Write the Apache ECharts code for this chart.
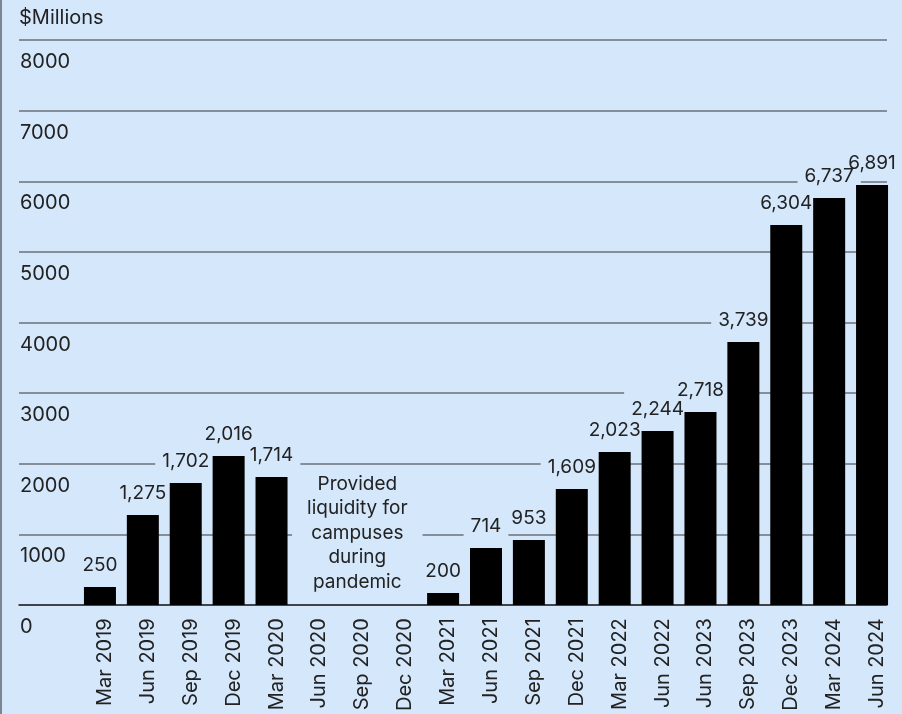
<!DOCTYPE html>
<html>
<head>
<meta charset="utf-8">
<script src="https://cdn.jsdelivr.net/npm/echarts@6/dist/echarts.min.js"></script>
<style>
  html, body { margin: 0; padding: 0; background: #d4e7fb; }
  #wrap { position: relative; width: 902px; height: 714px; }
  #chart { width: 902px; height: 714px; }
  #edge { position: absolute; left: 0; top: 0; width: 2px; height: 714px; background: #7d8590; }
</style>
</head>
<body>
<div id="wrap"><div id="chart"></div><div id="edge"></div></div>
<script>
// Quarter categories
const categories = ['Mar 2019','Jun 2019','Sep 2019','Dec 2019','Mar 2020','Jun 2020','Sep 2020','Dec 2020','Mar 2021','Jun 2021','Sep 2021','Dec 2021','Mar 2022','Jun 2022','Jun 2023','Sep 2023','Dec 2023','Mar 2024','Jun 2024'];
// Bar heights as drawn in the picture ($ millions on the axis scale)
const barHeights = [255, 1274, 1727, 2110, 1812, null, null, null, 170, 807, 920, 1642, 2166, 2464, 2733, 3724, 5381, 5763, 5947];
// Values printed above the bars
const valueLabels = ['250','1,275','1,702','2,016','1,714','','','','200','714','953','1,609','2,023','2,244','2,718','3,739','6,304','6,737','6,891'];
// Y axis ticks
const yMin = 0, yMax = 8000, yStep = 1000;
const axisTitle = '$Millions';
const noteCategory = 'Sep 2020';
const noteLevel = 1019;
const noteText = 'Provided\nliquidity for\ncampuses\nduring\npandemic';

const BG = '#d4e7fb';
const TXT = '#222222';
const FONT = 'Inter';

const labelBase = {
  show: true, position: 'top', distance: 7,
  formatter: p => valueLabels[p.dataIndex],
  fontSize: 19, fontFamily: FONT, lineHeight: 24, padding: [5, 7, 3, 7]
};

const chart = echarts.init(document.getElementById('chart'), null, { renderer: 'canvas' });
chart.setOption({
  backgroundColor: BG,
  animation: false,
  textStyle: { fontFamily: FONT },
  grid: [
    { left: 19, right: 15, top: 40, bottom: 109 },
    { left: 78.5, right: 8.5, top: 40, bottom: 109 },
    { left: 83.5, right: 3.5, top: 40, bottom: 109 }
  ],
  xAxis: [
    { gridIndex: 0, type: 'value', min: 0, max: 1,
      axisLine: { show: true, lineStyle: { color: '#2b2b2b', width: 1.5 } },
      axisTick: { show: false }, axisLabel: { show: false }, splitLine: { show: false } },
    { gridIndex: 1, type: 'category', data: categories,
      axisLine: { show: false }, axisTick: { show: false }, axisLabel: { show: false } },
    { gridIndex: 2, type: 'category', data: categories,
      axisLine: { show: false }, axisTick: { show: false },
      axisLabel: { rotate: 90, margin: 14, fontSize: 20, color: TXT, fontFamily: FONT, interval: 0 } }
  ],
  yAxis: [
    { gridIndex: 0, type: 'value', min: yMin, max: yMax, interval: yStep,
      name: axisTitle, nameLocation: 'end', nameGap: 22,
      nameTextStyle: { align: 'left', verticalAlign: 'middle', fontSize: 20, color: TXT, fontFamily: FONT },
      axisLine: { show: false }, axisTick: { show: false },
      axisLabel: { inside: true, margin: 1, align: 'left', verticalAlign: 'top', padding: [12, 0, 0, 0],
        fontSize: 20, color: TXT, fontFamily: FONT, formatter: v => String(v) },
      splitLine: { show: true, lineStyle: { color: '#6b7179', width: 1.5 } } },
    { gridIndex: 1, type: 'value', min: yMin, max: yMax, interval: yStep, show: false, splitLine: { show: false } },
    { gridIndex: 2, type: 'value', min: yMin, max: yMax, interval: yStep, show: false, splitLine: { show: false } }
  ],
  series: [
    {
      // label backgrounds (mask grid lines), under the bars
      type: 'bar', xAxisIndex: 1, yAxisIndex: 1, z: 1, silent: true,
      data: barHeights, barWidth: 32,
      itemStyle: { color: 'rgba(0,0,0,0)' },
      label: Object.assign({}, labelBase, { color: 'rgba(0,0,0,0)', backgroundColor: BG }),
      markPoint: {
        silent: true, symbol: 'rect', symbolSize: 0,
        data: [{ coord: [noteCategory, noteLevel] }],
        label: {
          show: true, position: 'inside', formatter: noteText,
          fontSize: 19, lineHeight: 24.5, color: TXT, fontFamily: FONT,
          align: 'center', backgroundColor: BG, padding: [2, 15, 2, 15]
        }
      }
    },
    {
      type: 'bar', xAxisIndex: 1, yAxisIndex: 1, z: 3,
      data: barHeights, barWidth: 32, barGap: '-100%',
      itemStyle: { color: '#000000' }
    },
    {
      // label text on top
      type: 'bar', xAxisIndex: 1, yAxisIndex: 1, z: 4, silent: true,
      data: barHeights, barWidth: 32, barGap: '-100%',
      itemStyle: { color: 'rgba(0,0,0,0)' },
      label: Object.assign({}, labelBase, { color: TXT })
    }
  ]
});
</script>
</body>
</html>
